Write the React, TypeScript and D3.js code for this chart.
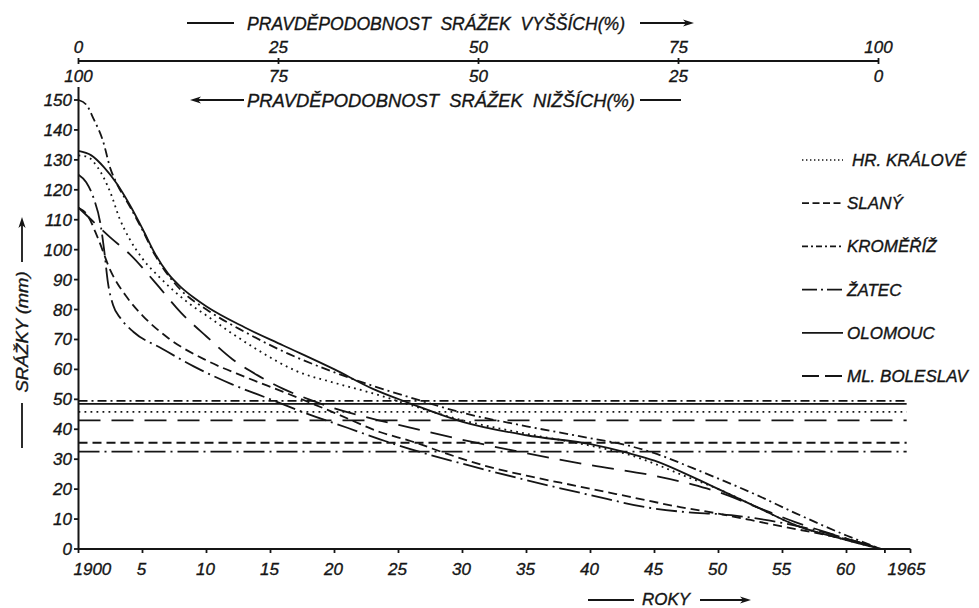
import React from "react";
import * as d3 from "d3";

// Years counted from 1900
const yearTicks = [0, 5, 10, 15, 20, 25, 30, 35, 40, 45, 50, 55, 60, 65];
const yearTickLabels = ["1900", "5", "10", "15", "20", "25", "30", "35", "40", "45", "50", "55", "60", "1965"];
const extraYearTicks = [63];
const precipTicks = [0, 10, 20, 30, 40, 50, 60, 70, 80, 90, 100, 110, 120, 130, 140, 150];
const higherProbTicks = [0, 25, 50, 75, 100];
const lowerProbLabels = ["100", "75", "50", "25", "0"];

const stationNames = ["HR. KRÁLOVÉ", "SLANÝ", "KROMĚŘÍŽ", "ŽATEC", "OLOMOUC", "ML. BOLESLAV"];
// Long-term mean of each station (mm)
const stationMeans = [45.8, 35.5, 49.5, 32.5, 48.5, 43];

// [years since 1900, precipitation mm]
const hrKralove: [number, number][] = [
  [0, 131.5], [0.7, 131], [1.5, 127.5], [2.5, 119], [3.2, 110.5], [4, 103.5], [5, 97],
  [6.4, 90.5], [8.5, 82.5], [10, 78], [12, 72], [14, 66.5], [17, 59.5], [20, 55.5],
  [23, 52], [26, 48], [30, 43], [35, 38.5], [40, 34.5], [43, 31.5], [45, 28.5],
  [47, 25], [50, 20], [53, 14], [56, 8], [60, 3], [62.7, 0],
];
const slany: [number, number][] = [
  [0, 114], [0.7, 111.5], [1.5, 104], [2.5, 93], [3.8, 84], [5, 78], [7, 70.5],
  [10, 63], [13, 57.5], [16, 52.5], [20, 45.5], [23.6, 39], [26, 36], [29, 31.5],
  [32, 27.5], [35, 24.5], [39, 21], [43, 17.5], [47, 14], [50, 11.8], [52.5, 9.7],
  [55, 7.5], [57.7, 5.3], [60.3, 3], [62.7, 0],
];
const kromeriz: [number, number][] = [
  [0, 150], [0.6, 148.5], [1.2, 143.5], [1.9, 136.5], [2.5, 127], [3, 122], [4, 114.5],
  [5, 106.5], [6, 98], [7, 91.5], [8, 86.5], [10, 80], [13, 72.5], [16, 66], [20, 59],
  [23, 54.5], [26, 50.5], [30, 45.5], [35, 41], [40, 37], [43, 34.5], [45, 32],
  [48, 27], [50, 23.5], [53, 18], [56, 12], [60, 4.5], [62.7, 0],
];
const zatec: [number, number][] = [
  [0, 125], [0.6, 122.5], [1.2, 117], [1.7, 109], [2, 100], [2.3, 89], [2.7, 81.5],
  [3.3, 77], [4.3, 72.5], [6.5, 67], [9, 61], [12, 55], [15, 50], [18, 45], [21, 40.5],
  [24, 36], [27, 32], [30, 28.5], [35, 23], [40, 18], [44.7, 13.7], [47, 12.5],
  [51, 11.3], [55, 8.7], [59, 4.7], [62.7, 0],
];
const olomouc: [number, number][] = [
  [0, 133], [1, 131.5], [2, 127.5], [3, 122], [4, 115], [5, 107], [6, 98.5], [7, 92],
  [8, 87.5], [9, 84], [10, 81], [13, 74], [16, 68], [20, 60], [23, 53.5], [26, 48.5],
  [30, 42.5], [35, 38], [40, 35], [43, 32], [45, 29.5], [48, 24], [50, 20], [53, 14],
  [56, 8], [60, 3], [62.7, 0],
];
const mlBoleslav: [number, number][] = [
  [0, 114], [1, 110], [2.5, 104], [4, 98.5], [6, 89], [8, 79], [10, 71], [12, 63.5],
  [14, 58], [16, 53.5], [18, 50], [20, 47], [23, 43.5], [26, 40.5], [30, 36.5],
  [35, 32], [40, 28], [44.7, 24.7], [48, 21.5], [50, 19], [53, 14], [56, 9],
  [60, 3.5], [62.7, 0],
];
const stationCurves = [hrKralove, slany, kromeriz, zatec, olomouc, mlBoleslav];

// Line pattern of each station: in the plot and in the key
const stationStyles = [
  { dash: "1.8,4.2", key: "1.4,2.6" },
  { dash: "9,5", key: "7,3.5" },
  { dash: "9,4,2,4", key: "6,3,2,3" },
  { dash: "21,5,2,5", key: "15,4,2,4" },
  { dash: "none", key: "none" },
  { dash: "22,11", key: "17,6" },
];

const W = 979;
const H = 608;
const INK = "#151515";
const FONT = "'Liberation Sans', Arial, sans-serif";
const PROB_END_YEAR = 62.5;
const MEAN_END_YEAR = 64.7;

const x = d3.scaleLinear().domain([0, 65]).range([78.5, 910.5]);
const y = d3.scaleLinear().domain([0, 150]).range([549, 100]);
const xProb = d3.scaleLinear().domain([0, 100]).range([x(0), x(PROB_END_YEAR)]);

const line = d3
  .line<[number, number]>()
  .x((d) => x(d[0]))
  .y((d) => y(d[1]))
  .curve(d3.curveMonotoneX);

function ArrowHead({ tx, ty, dir }: { tx: number; ty: number; dir: "left" | "right" | "up" }) {
  const L = 11;
  const w = 3.6;
  let d = "";
  if (dir === "right") d = `M${tx},${ty} L${tx - L},${ty - w} L${tx - L + 3},${ty} L${tx - L},${ty + w} Z`;
  if (dir === "left") d = `M${tx},${ty} L${tx + L},${ty - w} L${tx + L - 3},${ty} L${tx + L},${ty + w} Z`;
  if (dir === "up") d = `M${tx},${ty} L${tx - w},${ty + L} L${tx},${ty + L - 3} L${tx + w},${ty + L} Z`;
  return <path d={d} fill={INK} />;
}

const txt = {
  fontFamily: FONT,
  fontStyle: "italic" as const,
  fill: INK,
  stroke: INK,
  strokeWidth: 0.35,
  style: { whiteSpace: "pre" as const },
};

export default function App() {
  const axisY = y(0);
  const legendX0 = 802;
  const legendX1 = 843;

  return (
    <svg
      width={W}
      height={H}
      viewBox={`0 0 ${W} ${H}`}
      style={{ position: "absolute", left: 0, top: 0, background: "#fff", display: "block" }}
    >
      <rect width={W} height={H} fill="#fff" />

      {/* Probability of higher precipitation (top scale) */}
      <line x1={187} x2={234} y1={23} y2={23} stroke={INK} strokeWidth={1.8} />
      <text {...txt} x={247} y={30} fontSize={18} textLength={378} lengthAdjust="spacingAndGlyphs">
        {"PRAVDĚPODOBNOST  SRÁŽEK  VYŠŠÍCH(%)"}
      </text>
      <line x1={640} x2={686} y1={23} y2={23} stroke={INK} strokeWidth={1.8} />
      <ArrowHead tx={694} ty={23} dir="right" />

      <line x1={xProb(0)} x2={xProb(100)} y1={61} y2={61} stroke={INK} strokeWidth={2} />
      {higherProbTicks.map((p, i) => (
        <g key={p}>
          <line x1={xProb(p)} x2={xProb(p)} y1={58} y2={64} stroke={INK} strokeWidth={1.8} />
          <text {...txt} x={xProb(p)} y={53} fontSize={17} textAnchor="middle">
            {p}
          </text>
          <text {...txt} x={xProb(p)} y={82} fontSize={17} textAnchor="middle">
            {lowerProbLabels[i]}
          </text>
        </g>
      ))}

      {/* Probability of lower precipitation */}
      <ArrowHead tx={190} ty={100} dir="left" />
      <line x1={198} x2={244} y1={100} y2={100} stroke={INK} strokeWidth={1.8} />
      <text {...txt} x={247} y={107} fontSize={18} textLength={388} lengthAdjust="spacingAndGlyphs">
        {"PRAVDĚPODOBNOST  SRÁŽEK  NIŽŠÍCH(%)"}
      </text>
      <line x1={640} x2={681} y1={100} y2={100} stroke={INK} strokeWidth={1.8} />

      {/* Y axis */}
      <line x1={x(0)} x2={x(0)} y1={87} y2={axisY} stroke={INK} strokeWidth={2} />
      {precipTicks.map((v) => (
        <g key={v}>
          <line x1={x(0) - 4.5} x2={x(0)} y1={y(v)} y2={y(v)} stroke={INK} strokeWidth={1.8} />
          <text {...txt} x={72} y={y(v) + 6} fontSize={17} textAnchor="end">
            {v}
          </text>
        </g>
      ))}
      <g transform="translate(22,332) rotate(-90)">
        <text {...txt} x={0} y={6} fontSize={17} textAnchor="middle" textLength={121} lengthAdjust="spacingAndGlyphs">
          SRÁŽKY (mm)
        </text>
      </g>
      <line x1={22} x2={22} y1={403} y2={448} stroke={INK} strokeWidth={1.8} />
      <line x1={22} x2={22} y1={225} y2={262} stroke={INK} strokeWidth={1.8} />
      <ArrowHead tx={22} ty={217} dir="up" />

      {/* X axis */}
      <line x1={x(0)} x2={x(65)} y1={axisY} y2={axisY} stroke={INK} strokeWidth={2} />
      {yearTicks.map((t, i) => (
        <g key={t}>
          <line x1={x(t)} x2={x(t)} y1={axisY} y2={axisY + 4} stroke={INK} strokeWidth={1.8} />
          <text
            {...txt}
            x={i === 0 ? x(t) - 5 : i === yearTicks.length - 1 ? x(t) - 4 : x(t) - 1}
            y={575}
            fontSize={17}
            textAnchor={i === 0 ? "start" : "middle"}
          >
            {yearTickLabels[i]}
          </text>
        </g>
      ))}
      {extraYearTicks.map((t) => (
        <line key={t} x1={x(t)} x2={x(t)} y1={axisY} y2={axisY + 4} stroke={INK} strokeWidth={1.8} />
      ))}
      <line x1={588} x2={634} y1={600} y2={600} stroke={INK} strokeWidth={1.8} />
      <text {...txt} x={642} y={605} fontSize={16} textLength={48} lengthAdjust="spacingAndGlyphs">
        ROKY
      </text>
      <line x1={700} x2={744} y1={600} y2={600} stroke={INK} strokeWidth={1.8} />
      <ArrowHead tx={751} ty={600} dir="right" />

      {/* Mean lines */}
      {stationMeans.map((m, i) => (
        <line
          key={stationNames[i]}
          x1={x(0)}
          x2={x(MEAN_END_YEAR)}
          y1={y(m)}
          y2={y(m)}
          stroke={INK}
          strokeWidth={1.8}
          strokeDasharray={stationStyles[i].dash}
        />
      ))}

      {/* Exceedance curves */}
      {stationCurves.map((c, i) => (
        <path
          key={stationNames[i]}
          d={line(c) || ""}
          fill="none"
          stroke={INK}
          strokeWidth={1.8}
          strokeDasharray={stationStyles[i].dash}
        />
      ))}

      {/* Key */}
      {stationNames.map((n, i) => {
        const ly = 160 + i * 43.2;
        return (
          <g key={n}>
            <line
              x1={legendX0}
              x2={legendX1}
              y1={ly}
              y2={ly}
              stroke={INK}
              strokeWidth={i === 0 ? 1.3 : 1.8}
              strokeDasharray={stationStyles[i].key}
            />
            <text {...txt} x={i === 0 ? 852 : 847} y={ly + 6} fontSize={17}>
              {n}
            </text>
          </g>
        );
      })}
    </svg>
  );
}
